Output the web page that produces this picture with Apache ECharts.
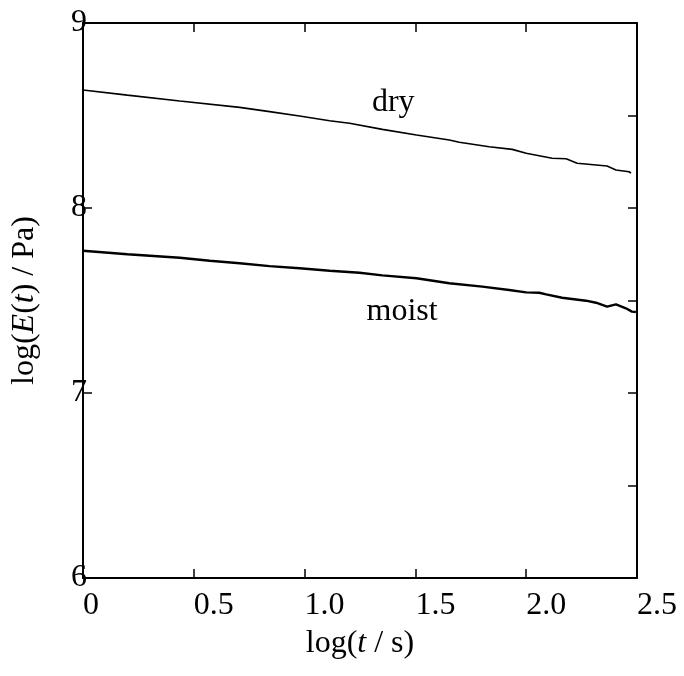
<!DOCTYPE html>
<html>
<head>
<meta charset="utf-8">
<script src="https://cdn.jsdelivr.net/npm/echarts@6/dist/echarts.min.js"></script>
<style>
  html, body { margin: 0; padding: 0; background: #fff; }
  #chart { width: 684px; height: 676px; }
</style>
</head>
<body>
<div id="chart"></div>
<script>
// log(t / s) vs log(E(t) / Pa)
const dryT = [0, 0.2, 0.437, 0.707, 0.842, 0.977, 1.113, 1.203, 1.351, 1.505, 1.653, 1.698, 1.833, 1.937, 2.0, 2.117, 2.18, 2.23, 2.365, 2.405, 2.464, 2.473];
const dryE = [8.638, 8.61, 8.578, 8.544, 8.521, 8.497, 8.472, 8.458, 8.425, 8.395, 8.368, 8.355, 8.331, 8.317, 8.296, 8.269, 8.266, 8.242, 8.227, 8.205, 8.196, 8.188];

const moistT = [0, 0.2, 0.437, 0.572, 0.707, 0.842, 0.977, 1.113, 1.248, 1.351, 1.505, 1.653, 1.802, 1.923, 2.0, 2.059, 2.09, 2.162, 2.27, 2.315, 2.365, 2.405, 2.45, 2.477, 2.495];
const moistE = [7.769, 7.75, 7.731, 7.715, 7.701, 7.686, 7.674, 7.661, 7.65, 7.636, 7.62, 7.593, 7.575, 7.557, 7.544, 7.542, 7.533, 7.515, 7.499, 7.488, 7.467, 7.479, 7.458, 7.44, 7.438];

const notes = [
  { text: 'dry', t: 1.40, e: 8.568 },
  { text: 'moist', t: 1.44, e: 7.44 }
];

const serif = '"Liberation Serif", "DejaVu Serif", serif';
const zip = (xs, ys) => xs.map((x, i) => [x, ys[i]]);

const chart = echarts.init(document.getElementById('chart'));

const tickIn = { show: true, inside: true, length: 9, lineStyle: { color: '#000', width: 1.5 } };
const axisLine = { show: true, onZero: false, lineStyle: { color: '#000', width: 2 } };

chart.setOption({
  animation: false,
  grid: { left: 83, top: 23, right: 47, bottom: 98 },
  xAxis: [
    {
      type: 'value', position: 'bottom', min: 0, max: 2.5, interval: 0.5,
      axisLine: axisLine, axisTick: tickIn, splitLine: { show: false },
      axisLabel: {
        color: '#000', fontFamily: serif, fontSize: 32, margin: 12, align: 'left',
        formatter: v => v === 0 ? '0' : v.toFixed(1)
      },
      name: '{a|log(}{i|t}{a| / s)}', nameLocation: 'middle', nameGap: 50,
      nameTextStyle: {
        rich: {
          a: { fontFamily: serif, fontSize: 32, color: '#000' },
          i: { fontFamily: serif, fontSize: 32, color: '#000', fontStyle: 'italic' }
        }
      }
    },
    {
      type: 'value', position: 'top', min: 0, max: 2.5, interval: 0.5,
      axisLine: axisLine, axisTick: tickIn, axisLabel: { show: false }, splitLine: { show: false }
    }
  ],
  yAxis: [
    {
      type: 'value', position: 'left', min: 6, max: 9, interval: 1,
      axisLine: axisLine, axisTick: tickIn, splitLine: { show: false },
      axisLabel: { color: '#000', fontFamily: serif, fontSize: 32, margin: 4, align: 'center' },
      name: '{a|log(}{i|E}{a|(}{i|t}{a|) / Pa)}', nameLocation: 'middle', nameGap: 42, nameRotate: 90,
      nameTextStyle: {
        rich: {
          a: { fontFamily: serif, fontSize: 32, color: '#000' },
          i: { fontFamily: serif, fontSize: 32, color: '#000', fontStyle: 'italic' }
        }
      }
    },
    {
      type: 'value', position: 'right', min: 6, max: 9, interval: 0.5,
      axisLine: axisLine, axisTick: tickIn, axisLabel: { show: false }, splitLine: { show: false }
    }
  ],
  series: [
    {
      name: 'dry', type: 'line', data: zip(dryT, dryE), showSymbol: false,
      lineStyle: { color: '#000', width: 1.6 }
    },
    {
      name: 'moist', type: 'line', data: zip(moistT, moistE), showSymbol: false,
      lineStyle: { color: '#000', width: 2.4 }
    },
    {
      type: 'scatter', symbolSize: 0, silent: true, itemStyle: { color: '#000', opacity: 1 },
      data: notes.map(n => ({ value: [n.t, n.e], name: n.text })),
      label: {
        show: true, position: 'inside', formatter: p => p.name, opacity: 1,
        color: '#000', textBorderWidth: 0, fontFamily: serif, fontSize: 32
      }
    }
  ]
});
</script>
</body>
</html>
